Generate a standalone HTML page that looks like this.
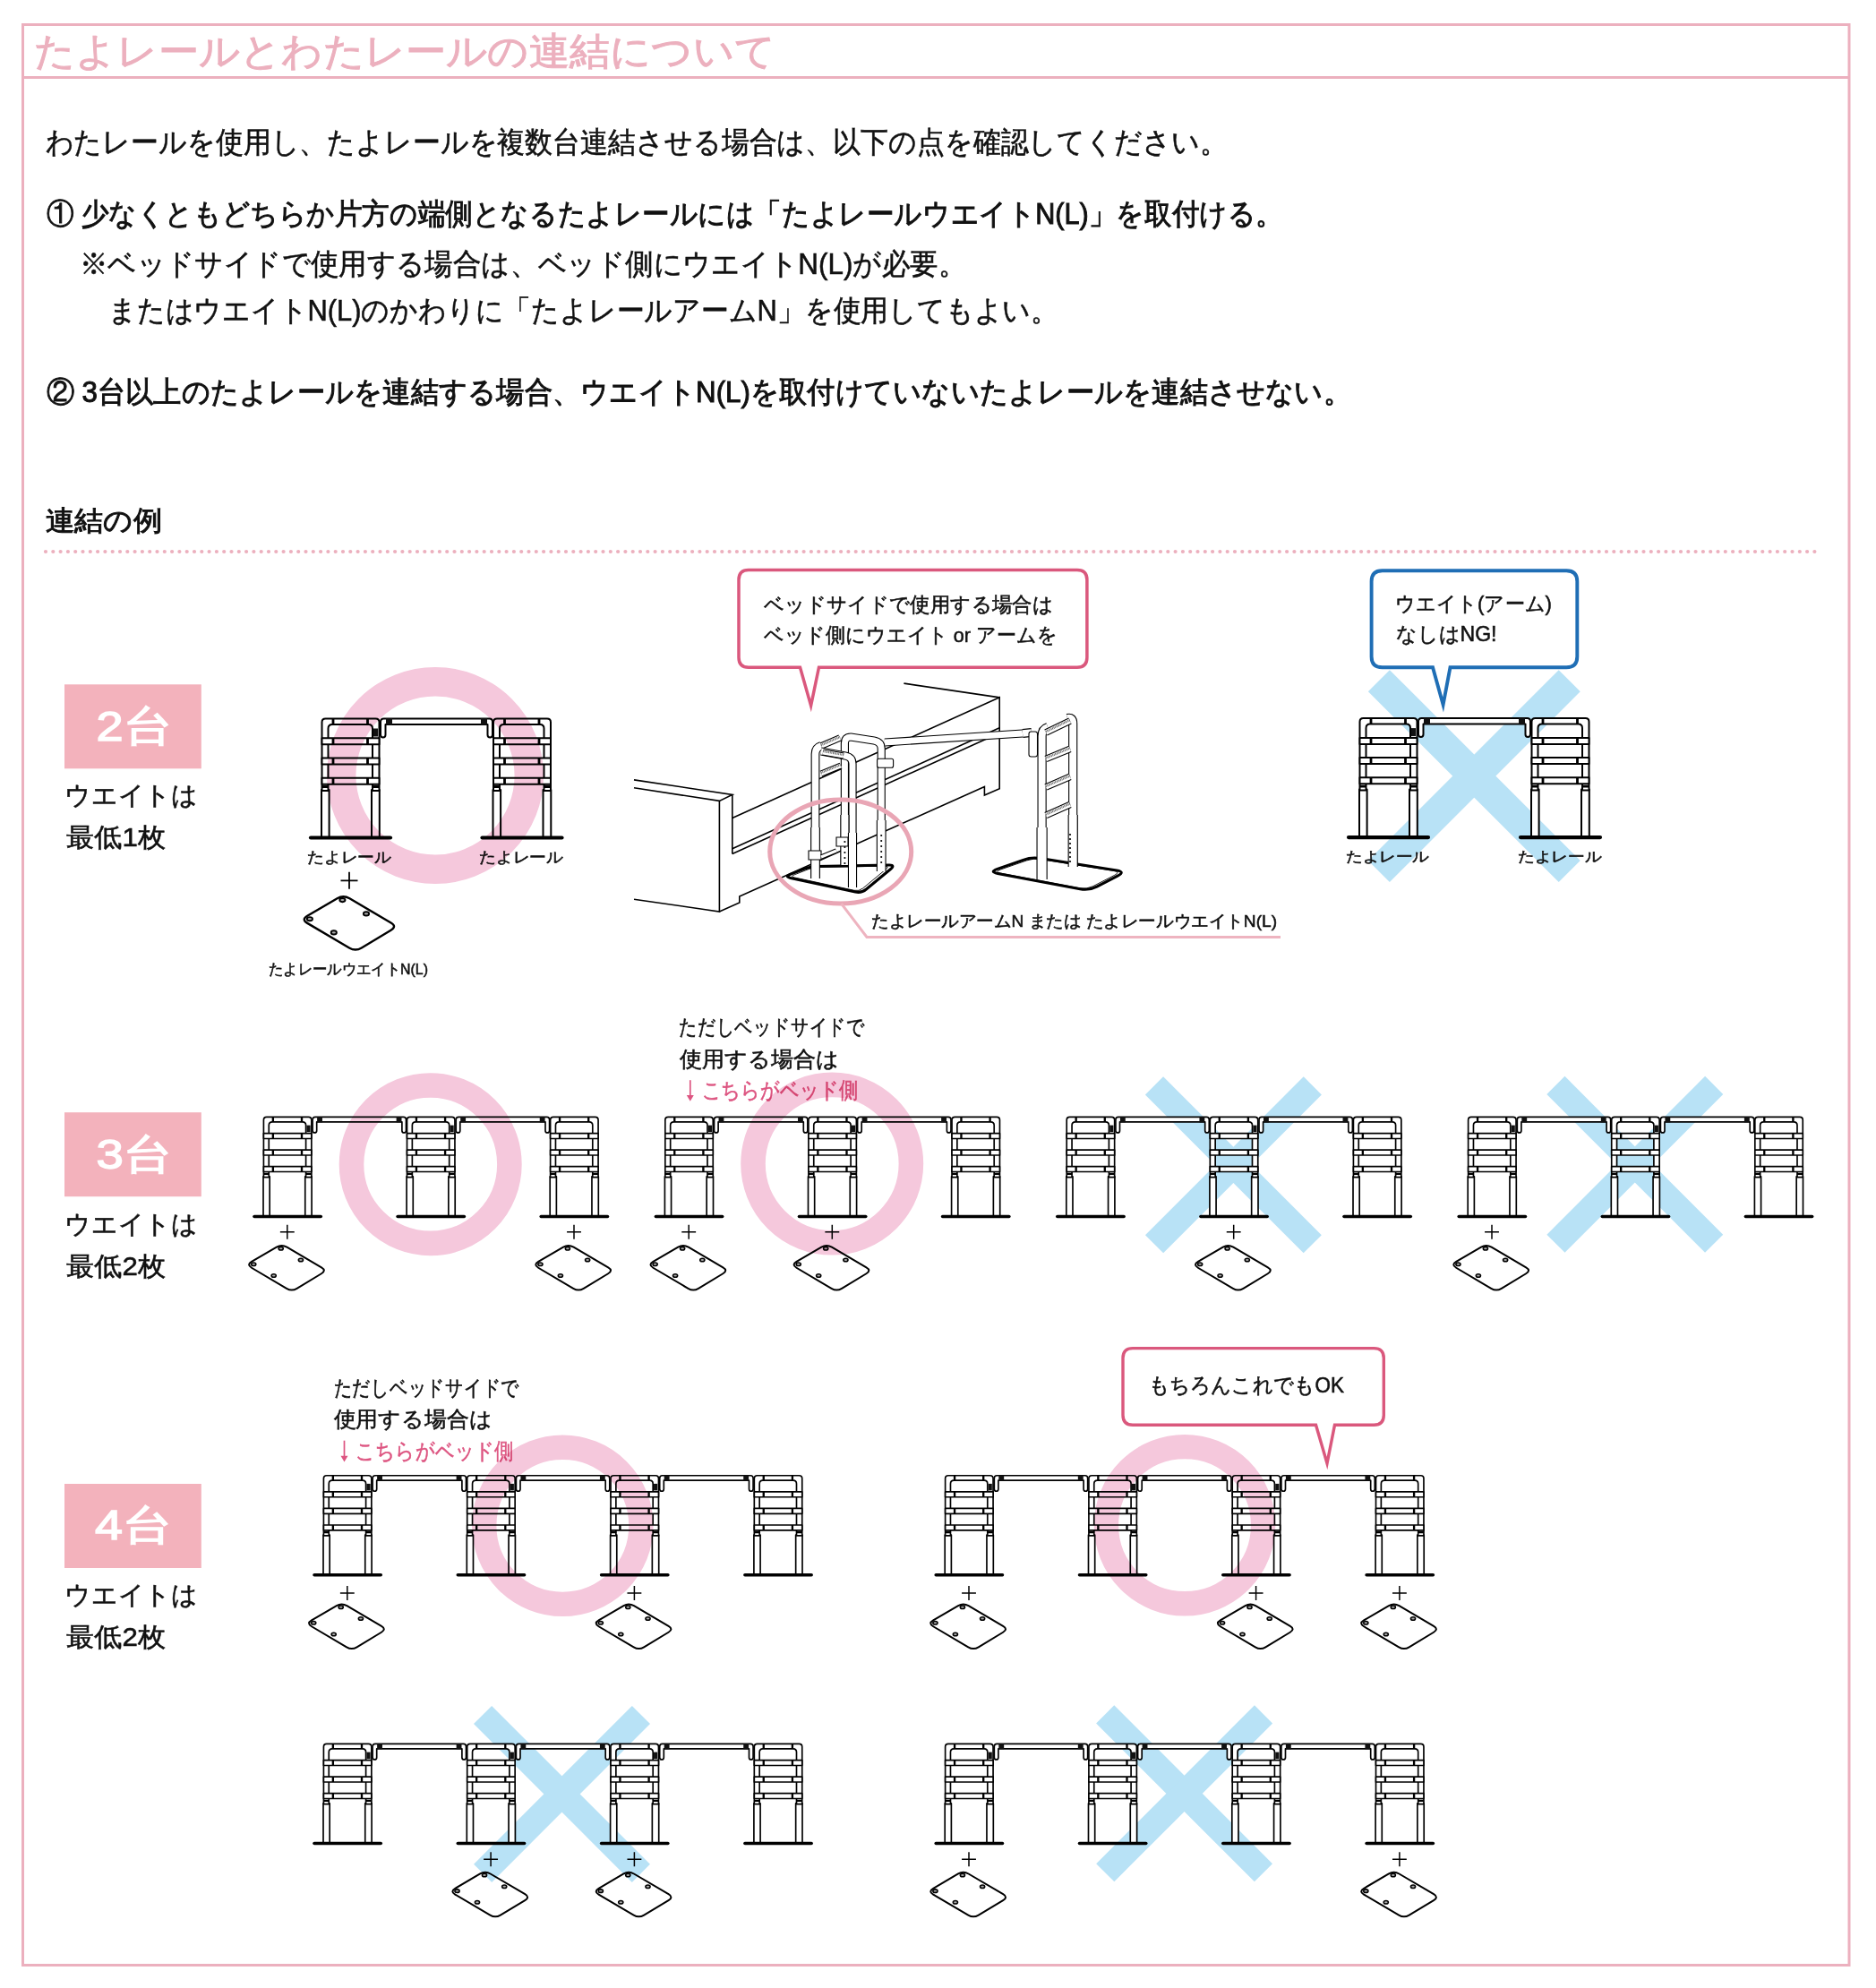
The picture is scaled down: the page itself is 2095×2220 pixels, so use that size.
<!DOCTYPE html>
<html lang="ja">
<head>
<meta charset="utf-8">
<style>
html,body{margin:0;padding:0;background:#fff;}
body{width:2095px;height:2220px;overflow:hidden;position:relative;font-family:"Liberation Sans",sans-serif;}
svg{position:absolute;left:0;top:0;}
text{font-family:"Liberation Sans",sans-serif;}
</style>
</head>
<body>
<svg width="2095" height="2220" viewBox="0 0 2095 2220">
<defs>
<g id="rail">
 <g fill="#fff" stroke="#000" stroke-width="2" stroke-linejoin="round">
  <rect x="0" y="80" width="8.6" height="53"/>
  <rect x="56" y="80" width="8.8" height="53"/>
  <path d="M0.5,81 V4.5 Q0.5,0.5 4.5,0.5 H60.5 Q64.5,0.5 64.5,4.5 V81 H57 V11.5 Q57,7 52.5,7 H12 Q7.5,7 7.5,11.5 V81 Z"/>
  <rect x="0.5" y="22.3" width="64" height="7"/>
  <rect x="0.5" y="44.5" width="64" height="7"/>
  <rect x="0.5" y="66.7" width="64" height="7"/>
 </g>
 <path stroke="#000" stroke-width="2.8" fill="none" d="M13,0.5V7 M51.5,0.5V7 M13,22.3v7 M51.5,22.3v7 M13,44.5v7 M51.5,44.5v7 M13,66.7v7 M51.5,66.7v7 M0.5,76.5H8 M57,76.5H64.5"/>
 <line x1="-12" y1="133.5" x2="77" y2="133.5" stroke="#000" stroke-width="4.2" stroke-linecap="round"/>
</g>
<g id="conn">
 <g fill="#fff" stroke="#000" stroke-width="2" stroke-linejoin="round">
  <path d="M66,4 Q66,0.5 69.5,0.5 H187.5 Q191,0.5 191,4 V18.5 Q191,21.5 188.2,21.5 Q185.5,21.5 185.5,18.5 V7 H71.5 V18.5 Q71.5,21.5 68.8,21.5 Q66,21.5 66,18.5 Z"/>
 </g>
 <g fill="#111">
  <rect x="72" y="0" width="7" height="7.5"/>
  <rect x="178" y="0" width="7" height="7.5"/>
  <rect x="58" y="11.5" width="5" height="9"/>
  <rect x="193.5" y="11.5" width="5" height="9"/>
 </g>
</g>
<g id="plate">
 <path d="M-13.7,-28 Q-6.8,-32 0.1,-27.9 L46.3,-0.7 Q53.2,3.4 46.3,7.5 L13.5,27.3 Q6.6,31.4 -0.3,27.3 L-47.1,-0.3 Q-54,-4.4 -47.1,-8.4 Z" fill="none" stroke="#000" stroke-width="2.4" stroke-linejoin="round"/>
 <g fill="#aaa" stroke="#000" stroke-width="1.9">
  <ellipse cx="-7.9" cy="-26.1" rx="3.1" ry="2.1"/>
  <ellipse cx="18.7" cy="-10.8" rx="3.1" ry="2.1"/>
  <ellipse cx="-44.4" cy="-5" rx="3.1" ry="2.1"/>
  <ellipse cx="-17.5" cy="10.2" rx="3.1" ry="2.1"/>
 </g>
</g>
<path id="plus" d="M-9.5,0H9.5M0,-9.5V9.5" stroke="#000" stroke-width="1.8" fill="none"/>
</defs>
<g fill="none" stroke="#ECB0BE" stroke-width="3"><rect x="25.5" y="27.5" width="2039.5" height="2167"/><line x1="25" y1="86.5" x2="2066" y2="86.5"/></g>
<line x1="51" y1="616" x2="2033" y2="616" stroke="#ECB0BE" stroke-width="4.2" stroke-linecap="round" stroke-dasharray="0 8.3"/>
<rect x="72" y="764.3" width="152.8" height="94" fill="#F3B2BC"/>
<rect x="72" y="1242.2" width="152.8" height="94" fill="#F3B2BC"/>
<rect x="72" y="1657" width="152.8" height="94" fill="#F3B2BC"/>
<rect x="-150.5" y="-17" width="301" height="34" fill="#B8E2F6" transform="translate(1646.3,866.6) rotate(45)"/>
<rect x="-150.5" y="-17" width="301" height="34" fill="#B8E2F6" transform="translate(1646.3,866.6) rotate(-45)"/>
<rect x="-125" y="-14.2" width="250" height="28.5" fill="#B8E2F6" transform="translate(1377.4,1300.8) rotate(45)"/>
<rect x="-125" y="-14.2" width="250" height="28.5" fill="#B8E2F6" transform="translate(1377.4,1300.8) rotate(-45)"/>
<rect x="-125" y="-14.2" width="250" height="28.5" fill="#B8E2F6" transform="translate(1825.8,1300.3) rotate(45)"/>
<rect x="-125" y="-14.2" width="250" height="28.5" fill="#B8E2F6" transform="translate(1825.8,1300.3) rotate(-45)"/>
<rect x="-125" y="-14.2" width="250" height="28.5" fill="#B8E2F6" transform="translate(627.5,2003.4) rotate(45)"/>
<rect x="-125" y="-14.2" width="250" height="28.5" fill="#B8E2F6" transform="translate(627.5,2003.4) rotate(-45)"/>
<rect x="-125" y="-14.2" width="250" height="28.5" fill="#B8E2F6" transform="translate(1322.6,2002.8) rotate(45)"/>
<rect x="-125" y="-14.2" width="250" height="28.5" fill="#B8E2F6" transform="translate(1322.6,2002.8) rotate(-45)"/>
<use href="#rail" transform="translate(359,802)"/>
<use href="#conn" transform="translate(359,802)"/>
<use href="#rail" transform="translate(550.5,802)"/>
<use href="#rail" transform="translate(1518,801.6)"/>
<use href="#conn" transform="translate(1518,801.6)"/>
<use href="#rail" transform="translate(1710,801.6)"/>
<use href="#plus" transform="translate(390,983.3)"/>
<use href="#plate" transform="translate(390.3,1031.2)"/>
<use href="#rail" transform="translate(294,1247) scale(0.835)"/>
<use href="#conn" transform="translate(294,1247) scale(0.835)"/>
<use href="#rail" transform="translate(454.1,1247) scale(0.835)"/>
<use href="#conn" transform="translate(454.1,1247) scale(0.835)"/>
<use href="#rail" transform="translate(614.2,1247) scale(0.835)"/>
<use href="#rail" transform="translate(742.4,1247) scale(0.835)"/>
<use href="#conn" transform="translate(742.4,1247) scale(0.835)"/>
<use href="#rail" transform="translate(902.5,1247) scale(0.835)"/>
<use href="#conn" transform="translate(902.5,1247) scale(0.835)"/>
<use href="#rail" transform="translate(1062.6,1247) scale(0.835)"/>
<use href="#rail" transform="translate(1190.8,1247) scale(0.835)"/>
<use href="#conn" transform="translate(1190.8,1247) scale(0.835)"/>
<use href="#rail" transform="translate(1350.9,1247) scale(0.835)"/>
<use href="#conn" transform="translate(1350.9,1247) scale(0.835)"/>
<use href="#rail" transform="translate(1511,1247) scale(0.835)"/>
<use href="#rail" transform="translate(1639.2,1247) scale(0.835)"/>
<use href="#conn" transform="translate(1639.2,1247) scale(0.835)"/>
<use href="#rail" transform="translate(1799.3,1247) scale(0.835)"/>
<use href="#conn" transform="translate(1799.3,1247) scale(0.835)"/>
<use href="#rail" transform="translate(1959.4,1247) scale(0.835)"/>
<use href="#plus" transform="translate(320.8,1375.8) scale(0.835)"/>
<use href="#plate" transform="translate(320.3,1416) scale(0.835)"/>
<use href="#plus" transform="translate(641,1375.8) scale(0.835)"/>
<use href="#plate" transform="translate(640.5,1416) scale(0.835)"/>
<use href="#plus" transform="translate(769.2,1375.8) scale(0.835)"/>
<use href="#plate" transform="translate(768.7,1416) scale(0.835)"/>
<use href="#plus" transform="translate(929.3,1375.8) scale(0.835)"/>
<use href="#plate" transform="translate(928.8,1416) scale(0.835)"/>
<use href="#plus" transform="translate(1377.7,1375.8) scale(0.835)"/>
<use href="#plate" transform="translate(1377.2,1416) scale(0.835)"/>
<use href="#plus" transform="translate(1666,1375.8) scale(0.835)"/>
<use href="#plate" transform="translate(1665.5,1416) scale(0.835)"/>
<use href="#rail" transform="translate(361,1647.3) scale(0.835)"/>
<use href="#conn" transform="translate(361,1647.3) scale(0.835)"/>
<use href="#rail" transform="translate(521.3,1647.3) scale(0.835)"/>
<use href="#conn" transform="translate(521.3,1647.3) scale(0.835)"/>
<use href="#rail" transform="translate(681.6,1647.3) scale(0.835)"/>
<use href="#conn" transform="translate(681.6,1647.3) scale(0.835)"/>
<use href="#rail" transform="translate(841.9,1647.3) scale(0.835)"/>
<use href="#rail" transform="translate(361,1947) scale(0.835)"/>
<use href="#conn" transform="translate(361,1947) scale(0.835)"/>
<use href="#rail" transform="translate(521.3,1947) scale(0.835)"/>
<use href="#conn" transform="translate(521.3,1947) scale(0.835)"/>
<use href="#rail" transform="translate(681.6,1947) scale(0.835)"/>
<use href="#conn" transform="translate(681.6,1947) scale(0.835)"/>
<use href="#rail" transform="translate(841.9,1947) scale(0.835)"/>
<use href="#rail" transform="translate(1055.2,1647.3) scale(0.835)"/>
<use href="#conn" transform="translate(1055.2,1647.3) scale(0.835)"/>
<use href="#rail" transform="translate(1215.5,1647.3) scale(0.835)"/>
<use href="#conn" transform="translate(1215.5,1647.3) scale(0.835)"/>
<use href="#rail" transform="translate(1375.8,1647.3) scale(0.835)"/>
<use href="#conn" transform="translate(1375.8,1647.3) scale(0.835)"/>
<use href="#rail" transform="translate(1536.1,1647.3) scale(0.835)"/>
<use href="#rail" transform="translate(1055.2,1947) scale(0.835)"/>
<use href="#conn" transform="translate(1055.2,1947) scale(0.835)"/>
<use href="#rail" transform="translate(1215.5,1947) scale(0.835)"/>
<use href="#conn" transform="translate(1215.5,1947) scale(0.835)"/>
<use href="#rail" transform="translate(1375.8,1947) scale(0.835)"/>
<use href="#conn" transform="translate(1375.8,1947) scale(0.835)"/>
<use href="#rail" transform="translate(1536.1,1947) scale(0.835)"/>
<use href="#plus" transform="translate(387.8,1779) scale(0.835)"/>
<use href="#plate" transform="translate(387.3,1816.5) scale(0.835)"/>
<use href="#plus" transform="translate(708.4,1779) scale(0.835)"/>
<use href="#plate" transform="translate(707.9,1816.5) scale(0.835)"/>
<use href="#plus" transform="translate(1082,1779) scale(0.835)"/>
<use href="#plate" transform="translate(1081.5,1816.5) scale(0.835)"/>
<use href="#plus" transform="translate(1402.6,1779) scale(0.835)"/>
<use href="#plate" transform="translate(1402.1,1816.5) scale(0.835)"/>
<use href="#plus" transform="translate(1562.9,1779) scale(0.835)"/>
<use href="#plate" transform="translate(1562.4,1816.5) scale(0.835)"/>
<use href="#plus" transform="translate(548.1,2076.3) scale(0.835)"/>
<use href="#plate" transform="translate(547.6,2115.8) scale(0.835)"/>
<use href="#plus" transform="translate(708.4,2076.3) scale(0.835)"/>
<use href="#plate" transform="translate(707.9,2115.8) scale(0.835)"/>
<use href="#plus" transform="translate(1082,2076.3) scale(0.835)"/>
<use href="#plate" transform="translate(1081.5,2115.8) scale(0.835)"/>
<use href="#plus" transform="translate(1562.9,2076.3) scale(0.835)"/>
<use href="#plate" transform="translate(1562.4,2115.8) scale(0.835)"/>
<path d="M708,870.9 L817.8,887.4 L817.8,913.6 L1116.2,778.8 L1116.2,880.7 L1099.4,888 L1099.4,878.4 L825.8,1001 L825.8,1007.9 L803.4,1018 L708,1004.2 Z" fill="#fff" stroke="none"/>
<path d="M1009.4,763.2 L1116.2,778.8" fill="none" stroke="#000" stroke-width="1.8"/>
<path d="M708,870.9 L817.8,887.4 L803.4,894.4 L708,879.7" fill="none" stroke="#000" stroke-width="1.6" stroke-linejoin="miter"/>
<path d="M803.4,894.4 L803.4,1018 L708,1004.2" fill="none" stroke="#000" stroke-width="1.6" stroke-linejoin="miter"/>
<path d="M817.8,887.4 L817.8,953.5" fill="none" stroke="#000" stroke-width="1.6" stroke-linejoin="miter"/>
<path d="M803.4,1018 L825.8,1007.9 L825.8,1001 L1099.4,878.4 L1099.4,888 L1116.2,880.7 L1116.2,778.8 L817.8,913.6" fill="none" stroke="#000" stroke-width="1.6" stroke-linejoin="miter"/>
<path d="M817.8,947.7 L1116.2,812.8" fill="none" stroke="#000" stroke-width="1.6" stroke-linejoin="miter"/>
<path d="M817.8,953.5 L1116.2,818.4" fill="none" stroke="#000" stroke-width="1.6" stroke-linejoin="miter"/>
<path d="M882.8,980.5 Q876,979 882.5,976.4 L898.5,970.1 Q905,967.5 912,967.4 L993,966.1 Q1000,966 994.6,970.5 L967.4,993 Q962,997.5 955.2,996 Z" fill="#fff" stroke="#000" stroke-width="3" stroke-linejoin="round"/><path d="M887.4,980 Q882,978.9 887.2,976.8 L902.9,970.6 Q908.1,968.5 913.7,968.4 L988,967.2 Q993.6,967.1 989.3,970.7 L963.7,991.9 Q959.4,995.5 953.9,994.3 Z" fill="none" stroke="#000" stroke-width="0.9" stroke-linejoin="round"/>
<path d="M1114.2,975.5 Q1104.4,973.6 1113.8,970.3 L1142.6,960.3 Q1152,957 1161.9,958.6 L1247.1,972 Q1257,973.6 1248.1,978.2 L1224.9,990.1 Q1216,994.7 1206.2,992.8 Z" fill="#fff" stroke="#000" stroke-width="3" stroke-linejoin="round"/><path d="M1117.7,975.2 Q1109.9,973.7 1117.4,971 L1146.6,960.9 Q1154.1,958.2 1162,959.5 L1243.9,972.4 Q1251.8,973.7 1244.7,977.3 L1220.8,989.6 Q1213.6,993.3 1205.8,991.8 Z" fill="none" stroke="#000" stroke-width="0.9" stroke-linejoin="round"/>
<path d="M943.4,966 V830 Q943.4,823 950,823 L976,827 Q984.2,828.5 984.2,836 V973" fill="none" stroke="#000" stroke-width="9.2" stroke-linejoin="round"/><path d="M943.4,966 V830 Q943.4,823 950,823 L976,827 Q984.2,828.5 984.2,836 V973" fill="none" stroke="#fff" stroke-width="7" stroke-linejoin="round"/>
<path d="M917,833 L938,824" fill="none" stroke="#000" stroke-width="7.7" stroke-linejoin="round"/><path d="M917,833 L938,824" fill="none" stroke="#fff" stroke-width="5.5" stroke-linejoin="round"/><path d="M917,833 L938,824" fill="none" stroke="#555" stroke-width="2.5" stroke-dasharray="0.8 0.8" transform="translate(0,-1)"/>
<path d="M910.5,981 V842 Q910.5,835 917,833" fill="none" stroke="#000" stroke-width="9.8" stroke-linejoin="round"/><path d="M910.5,981 V842 Q910.5,835 917,833" fill="none" stroke="#fff" stroke-width="7.6" stroke-linejoin="round"/>
<path d="M917,839 L944,844 Q952,845.5 952,853 V991" fill="none" stroke="#000" stroke-width="9.2" stroke-linejoin="round"/><path d="M917,839 L944,844 Q952,845.5 952,853 V991" fill="none" stroke="#fff" stroke-width="7" stroke-linejoin="round"/>
<path d="M919,840 L942,844" fill="none" stroke="#000" stroke-width="7.2" stroke-linejoin="round"/><path d="M919,840 L942,844" fill="none" stroke="#fff" stroke-width="5" stroke-linejoin="round"/><path d="M919,840 L942,844" fill="none" stroke="#555" stroke-width="2.2" stroke-dasharray="0.8 0.8" transform="translate(0,-1)"/>
<path d="M917,864 L939,855" fill="none" stroke="#000" stroke-width="7.2" stroke-linejoin="round"/><path d="M917,864 L939,855" fill="none" stroke="#fff" stroke-width="5" stroke-linejoin="round"/><path d="M917,864 L939,855" fill="none" stroke="#555" stroke-width="2.2" stroke-dasharray="0.8 0.8" transform="translate(0,-1)"/>
<path d="M988,829 L1142,819" fill="none" stroke="#000" stroke-width="9" stroke-linejoin="round"/><path d="M988,829 L1142,819" fill="none" stroke="#fff" stroke-width="6.8" stroke-linejoin="round"/>
<rect x="979.6" y="847.3" width="18" height="10" rx="2" fill="#fff" stroke="#000" stroke-width="1.1"/>
<path d="M910.5,924 L910.5,981" fill="none" stroke="#000" stroke-width="10.8" stroke-linejoin="round"/><path d="M910.5,924 L910.5,981" fill="none" stroke="#fff" stroke-width="8.6" stroke-linejoin="round"/>
<path d="M943.4,910 L943.4,966" fill="none" stroke="#000" stroke-width="10.2" stroke-linejoin="round"/><path d="M943.4,910 L943.4,966" fill="none" stroke="#fff" stroke-width="8" stroke-linejoin="round"/>
<path d="M952,930 L952,991" fill="none" stroke="#000" stroke-width="10.2" stroke-linejoin="round"/><path d="M952,930 L952,991" fill="none" stroke="#fff" stroke-width="8" stroke-linejoin="round"/>
<path d="M984.2,916 L984.2,973" fill="none" stroke="#000" stroke-width="10.8" stroke-linejoin="round"/><path d="M984.2,916 L984.2,973" fill="none" stroke="#fff" stroke-width="8.6" stroke-linejoin="round"/>
<path d="M903,950 h14 v10 h-14 z M934,935 h13 v10 h-13 z" fill="#fff" stroke="#000" stroke-width="1.1"/>
<path d="M917,957 L934,950" fill="none" stroke="#000" stroke-width="5.3" stroke-linejoin="round"/><path d="M917,957 L934,950" fill="none" stroke="#fff" stroke-width="3.5" stroke-linejoin="round"/>
<path d="M1163.6,982 V822 Q1163.6,814 1170,812" fill="none" stroke="#000" stroke-width="10.2" stroke-linejoin="round"/><path d="M1163.6,982 V822 Q1163.6,814 1170,812" fill="none" stroke="#fff" stroke-width="8" stroke-linejoin="round"/>
<path d="M1198.2,968 V808 Q1198.2,800.5 1192,802" fill="none" stroke="#000" stroke-width="10.2" stroke-linejoin="round"/><path d="M1198.2,968 V808 Q1198.2,800.5 1192,802" fill="none" stroke="#fff" stroke-width="8" stroke-linejoin="round"/>
<path d="M1168,818 L1195,805" fill="none" stroke="#000" stroke-width="7.7" stroke-linejoin="round"/><path d="M1168,818 L1195,805" fill="none" stroke="#fff" stroke-width="5.5" stroke-linejoin="round"/><path d="M1168,818 L1195,805" fill="none" stroke="#555" stroke-width="2.5" stroke-dasharray="0.8 0.8" transform="translate(0,-1)"/>
<path d="M1168,847.5 L1195,836.4" fill="none" stroke="#000" stroke-width="7.7" stroke-linejoin="round"/><path d="M1168,847.5 L1195,836.4" fill="none" stroke="#fff" stroke-width="5.5" stroke-linejoin="round"/><path d="M1168,847.5 L1195,836.4" fill="none" stroke="#555" stroke-width="2.5" stroke-dasharray="0.8 0.8" transform="translate(0,-1)"/>
<path d="M1168,879 L1195,867.4" fill="none" stroke="#000" stroke-width="7.7" stroke-linejoin="round"/><path d="M1168,879 L1195,867.4" fill="none" stroke="#fff" stroke-width="5.5" stroke-linejoin="round"/><path d="M1168,879 L1195,867.4" fill="none" stroke="#555" stroke-width="2.5" stroke-dasharray="0.8 0.8" transform="translate(0,-1)"/>
<path d="M1168,910.6 L1195,898.4" fill="none" stroke="#000" stroke-width="7.7" stroke-linejoin="round"/><path d="M1168,910.6 L1195,898.4" fill="none" stroke="#fff" stroke-width="5.5" stroke-linejoin="round"/><path d="M1168,910.6 L1195,898.4" fill="none" stroke="#555" stroke-width="2.5" stroke-dasharray="0.8 0.8" transform="translate(0,-1)"/>
<path d="M1142,819 L1152,818" fill="none" stroke="#000" stroke-width="9.9" stroke-linejoin="round"/><path d="M1142,819 L1152,818" fill="none" stroke="#fff" stroke-width="7.7" stroke-linejoin="round"/>
<rect x="1149" y="817" width="9.5" height="28" rx="2.5" fill="#fff" stroke="#000" stroke-width="1.1"/>
<path d="M1163.6,924 L1163.6,982" fill="none" stroke="#000" stroke-width="12.2" stroke-linejoin="round"/><path d="M1163.6,924 L1163.6,982" fill="none" stroke="#fff" stroke-width="10" stroke-linejoin="round"/>
<path d="M1198.2,910 L1198.2,968" fill="none" stroke="#000" stroke-width="11.2" stroke-linejoin="round"/><path d="M1198.2,910 L1198.2,968" fill="none" stroke="#fff" stroke-width="9" stroke-linejoin="round"/>
<circle cx="984.2" cy="933" r="1.1" fill="#000"/>
<circle cx="984.2" cy="939" r="1.1" fill="#000"/>
<circle cx="984.2" cy="945" r="1.1" fill="#000"/>
<circle cx="984.2" cy="951" r="1.1" fill="#000"/>
<circle cx="984.2" cy="957" r="1.1" fill="#000"/>
<circle cx="984.2" cy="963" r="1.1" fill="#000"/>
<circle cx="943.4" cy="940" r="1.1" fill="#000"/>
<circle cx="943.4" cy="946" r="1.1" fill="#000"/>
<circle cx="943.4" cy="952" r="1.1" fill="#000"/>
<circle cx="943.4" cy="958" r="1.1" fill="#000"/>
<circle cx="943.4" cy="964" r="1.1" fill="#000"/>
<circle cx="1195" cy="932" r="1.1" fill="#000"/>
<circle cx="1195" cy="937" r="1.1" fill="#000"/>
<circle cx="1195" cy="942" r="1.1" fill="#000"/>
<circle cx="1195" cy="947" r="1.1" fill="#000"/>
<circle cx="1195" cy="952" r="1.1" fill="#000"/>
<circle cx="1195" cy="957" r="1.1" fill="#000"/>
<circle cx="1195" cy="962" r="1.1" fill="#000"/>
<path d="M836,636.5 H1202.9 Q1213.9,636.5 1213.9,647.5 V734.2 Q1213.9,745.2 1202.9,745.2 H914.5 L905.6,788 L893.5,745.2 H836 Q825,745.2 825,734.2 V647.5 Q825,636.5 836,636.5 Z" fill="#fff" stroke="#DA587D" stroke-width="3.5" stroke-linejoin="miter" stroke-miterlimit="20"/>
<path d="M1543.6,637.2 H1749.3 Q1761.3,637.2 1761.3,649.2 V733.2 Q1761.3,745.2 1749.3,745.2 H1619.5 L1611.6,787 L1600,745.2 H1543.6 Q1531.6,745.2 1531.6,733.2 V649.2 Q1531.6,637.2 1543.6,637.2 Z" fill="#fff" stroke="#1F6EB5" stroke-width="3.9" stroke-linejoin="miter" stroke-miterlimit="20"/>
<path d="M1265,1505.6 H1534.3 Q1545.3,1505.6 1545.3,1516.6 V1580.3 Q1545.3,1591.3 1534.3,1591.3 H1490.5 L1482,1634 L1469.5,1591.3 H1265 Q1254,1591.3 1254,1580.3 V1516.6 Q1254,1505.6 1265,1505.6 Z" fill="#fff" stroke="#DA587D" stroke-width="3.4" stroke-linejoin="miter" stroke-miterlimit="20"/>
<line x1="770.8" y1="1206.2" x2="770.8" y2="1224.8" stroke="#DD5581" stroke-width="1.7"/><path d="M766.8,1223 L774.8,1223 L770.8,1229.8 Z" fill="#DD5581"/>
<line x1="384.5" y1="1608.7" x2="384.5" y2="1627.5" stroke="#DD5581" stroke-width="1.7"/><path d="M380.5,1625.7 L388.5,1625.7 L384.5,1632.5 Z" fill="#DD5581"/>
<text id="t_title" x="38.0" y="72.2" font-size="42.70" fill="#ECB0BE" stroke="#ECB0BE" stroke-width="1.0" textLength="828.0" lengthAdjust="spacingAndGlyphs">たよレールとわたレールの連結について</text>
<text id="t_l1" x="50.5" y="170.0" font-size="33.00" fill="#111" stroke="#111" stroke-width="0.55" textLength="1320.0" lengthAdjust="spacingAndGlyphs">わたレールを使用し、たよレールを複数台連結させる場合は、以下の点を確認してください。</text>
<text id="t_l2" x="51.5" y="249.5" font-size="33.00" fill="#111" stroke="#111" stroke-width="1.0" textLength="1381.5" lengthAdjust="spacingAndGlyphs">① 少なくともどちらか片方の端側となるたよレールには「たよレールウエイトN(L)」を取付ける。</text>
<text id="t_l3" x="89.0" y="306.1" font-size="33.00" fill="#111" stroke="#111" stroke-width="0.55" textLength="990.0" lengthAdjust="spacingAndGlyphs">※ベッドサイドで使用する場合は、ベッド側にウエイトN(L)が必要。</text>
<text id="t_l4" x="121.0" y="357.5" font-size="33.00" fill="#111" stroke="#111" stroke-width="0.55" textLength="1061.0" lengthAdjust="spacingAndGlyphs">またはウエイトN(L)のかわりに「たよレールアームN」を使用してもよい。</text>
<text id="t_l5" x="51.5" y="448.5" font-size="33.00" fill="#111" stroke="#111" stroke-width="1.0" textLength="1457.5" lengthAdjust="spacingAndGlyphs">② 3台以上のたよレールを連結する場合、ウエイトN(L)を取付けていないたよレールを連結させない。</text>
<text id="t_h" x="51.0" y="591.9" font-size="31.20" fill="#111" stroke="#111" stroke-width="1.0" textLength="130.0" lengthAdjust="spacingAndGlyphs">連結の例</text>
<text id="t_2d" x="107.5" y="826.7" font-size="46.51" fill="#fff" stroke="#fff" stroke-width="1.4" textLength="85.0" lengthAdjust="spacingAndGlyphs">2台</text>
<text id="t_3d" x="107.5" y="1305.2" font-size="46.06" fill="#fff" stroke="#fff" stroke-width="1.4" textLength="85.0" lengthAdjust="spacingAndGlyphs">3台</text>
<text id="t_4d" x="106.0" y="1719.2" font-size="46.08" fill="#fff" stroke="#fff" stroke-width="1.4" textLength="86.5" lengthAdjust="spacingAndGlyphs">4台</text>
<text id="t_w2a" x="72.0" y="898.0" font-size="29.00" fill="#111" stroke="#111" stroke-width="0.55" textLength="149.0" lengthAdjust="spacingAndGlyphs">ウエイトは</text>
<text id="t_w2b" x="74.0" y="945.2" font-size="29.00" fill="#111" stroke="#111" stroke-width="0.55" textLength="111.0" lengthAdjust="spacingAndGlyphs">最低1枚</text>
<text id="t_w3a" x="72.0" y="1376.5" font-size="29.00" fill="#111" stroke="#111" stroke-width="0.55" textLength="149.0" lengthAdjust="spacingAndGlyphs">ウエイトは</text>
<text id="t_w3b" x="74.0" y="1423.5" font-size="29.00" fill="#111" stroke="#111" stroke-width="0.55" textLength="111.0" lengthAdjust="spacingAndGlyphs">最低2枚</text>
<text id="t_w4a" x="72.0" y="1790.5" font-size="29.00" fill="#111" stroke="#111" stroke-width="0.55" textLength="149.0" lengthAdjust="spacingAndGlyphs">ウエイトは</text>
<text id="t_w4b" x="74.0" y="1837.5" font-size="29.00" fill="#111" stroke="#111" stroke-width="0.55" textLength="111.0" lengthAdjust="spacingAndGlyphs">最低2枚</text>
<text id="t_r1" x="343.0" y="962.5" font-size="16.77" fill="#111" stroke="#111" stroke-width="0.55" textLength="94.0" lengthAdjust="spacingAndGlyphs">たよレール</text>
<text id="t_r2" x="535.0" y="962.5" font-size="16.77" fill="#111" stroke="#111" stroke-width="0.55" textLength="94.0" lengthAdjust="spacingAndGlyphs">たよレール</text>
<text id="t_wn" x="300.0" y="1087.6" font-size="16.52" fill="#111" stroke="#111" stroke-width="0.55" textLength="178.0" lengthAdjust="spacingAndGlyphs">たよレールウエイトN(L)</text>
<text id="t_c1" x="853.0" y="683.0" font-size="22.60" fill="#111" stroke="#111" stroke-width="0.55" textLength="323.0" lengthAdjust="spacingAndGlyphs">ベッドサイドで使用する場合は</text>
<text id="t_c2" x="853.0" y="716.5" font-size="22.60" fill="#111" stroke="#111" stroke-width="0.55" textLength="328.0" lengthAdjust="spacingAndGlyphs">ベッド側にウエイト or アームを</text>
<text id="t_bl" x="973.0" y="1034.9" font-size="18.57" fill="#111" stroke="#111" stroke-width="0.55" textLength="453.0" lengthAdjust="spacingAndGlyphs">たよレールアームN または たよレールウエイトN(L)</text>
<text id="t_n1" x="1558.0" y="681.5" font-size="23.20" fill="#111" stroke="#111" stroke-width="0.55" textLength="175.0" lengthAdjust="spacingAndGlyphs">ウエイト(アーム)</text>
<text id="t_n2" x="1559.0" y="715.9" font-size="23.20" fill="#111" stroke="#111" stroke-width="0.55" textLength="112.5" lengthAdjust="spacingAndGlyphs">なしはNG!</text>
<text id="t_r3" x="1503.0" y="961.5" font-size="16.40" fill="#111" stroke="#111" stroke-width="0.55" textLength="93.0" lengthAdjust="spacingAndGlyphs">たよレール</text>
<text id="t_r4" x="1695.0" y="961.5" font-size="16.40" fill="#111" stroke="#111" stroke-width="0.55" textLength="93.5" lengthAdjust="spacingAndGlyphs">たよレール</text>
<text id="t_3a" x="758.0" y="1155.3" font-size="24.00" fill="#111" stroke="#111" stroke-width="0.55" textLength="208.0" lengthAdjust="spacingAndGlyphs">ただしベッドサイドで</text>
<text id="t_3b" x="758.5" y="1190.8" font-size="24.00" fill="#111" stroke="#111" stroke-width="0.55" textLength="178.5" lengthAdjust="spacingAndGlyphs">使用する場合は</text>
<text id="t_3c" x="783.5" y="1226.1" font-size="24.50" fill="#DD5581" stroke="#DD5581" stroke-width="0.55" textLength="175.0" lengthAdjust="spacingAndGlyphs">こちらがベッド側</text>
<text id="t_4a" x="372.5" y="1558.2" font-size="24.00" fill="#111" stroke="#111" stroke-width="0.55" textLength="207.5" lengthAdjust="spacingAndGlyphs">ただしベッドサイドで</text>
<text id="t_4b" x="372.5" y="1593.3" font-size="24.00" fill="#111" stroke="#111" stroke-width="0.55" textLength="177.0" lengthAdjust="spacingAndGlyphs">使用する場合は</text>
<text id="t_4c" x="397.0" y="1629.2" font-size="24.50" fill="#DD5581" stroke="#DD5581" stroke-width="0.55" textLength="176.5" lengthAdjust="spacingAndGlyphs">こちらがベッド側</text>
<text id="t_ok" x="1282.5" y="1554.8" font-size="24.20" fill="#111" stroke="#111" stroke-width="0.55" textLength="218.5" lengthAdjust="spacingAndGlyphs">もちろんこれでもOK</text>
<g style="mix-blend-mode:multiply">
<circle cx="486" cy="866" r="104.8" fill="none" stroke="#F5C8DC" stroke-width="32.5"/>
<circle cx="480.7" cy="1300.2" r="88.2" fill="none" stroke="#F5C8DC" stroke-width="27.6"/>
<circle cx="929.2" cy="1299.6" r="88.2" fill="none" stroke="#F5C8DC" stroke-width="27.6"/>
<circle cx="628.3" cy="1703.8" r="87.6" fill="none" stroke="#F5C8DC" stroke-width="27.4"/>
<circle cx="1323" cy="1703.2" r="87.6" fill="none" stroke="#F5C8DC" stroke-width="27.4"/>
</g>
<ellipse cx="938.7" cy="950.9" rx="79" ry="58" fill="none" stroke="#E9A6B5" stroke-width="5"/>
<path d="M939.5,1009 L968,1046.5 H1430" fill="none" stroke="#EEB4C0" stroke-width="3"/>
</svg>
</body>
</html>
